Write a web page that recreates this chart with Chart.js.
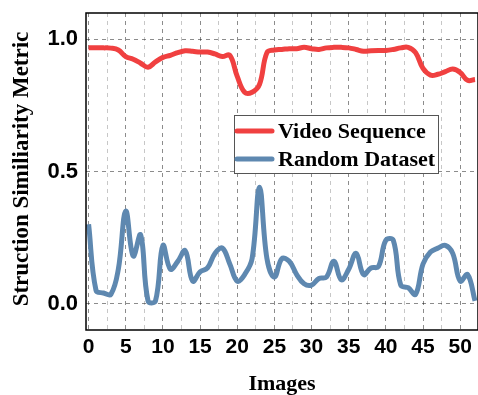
<!DOCTYPE html>
<html>
<head>
<meta charset="utf-8">
<script src="https://cdn.jsdelivr.net/npm/chart.js@4"></script>
<style>
  html, body { margin: 0; padding: 0; background: #fff; }
  #wrap { width: 478px; height: 395px; }
</style>
</head>
<body>
<div id="wrap"><canvas id="chart" width="478" height="395"></canvas></div>
<script>
// chart data
const images = [];
for (let i = 0; i <= 52; i++) images.push(i);

const videoSequence = [0.968, 0.968, 0.968, 0.967, 0.960, 0.935, 0.925, 0.910, 0.895, 0.915,
    0.932, 0.940, 0.950, 0.957, 0.955, 0.952, 0.952, 0.945, 0.935, 0.940,
    0.860, 0.800, 0.800, 0.830, 0.950, 0.960, 0.962, 0.965, 0.965, 0.970,
    0.965, 0.962, 0.968, 0.970, 0.970, 0.968, 0.962, 0.955, 0.957, 0.958,
    0.958, 0.962, 0.968, 0.970, 0.950, 0.890, 0.865, 0.868, 0.878, 0.888,
    0.875, 0.845, 0.848];

const randomDataset = [0.30, 0.05, 0.04, 0.035, 0.13, 0.35, 0.18, 0.26, 0.01, 0.01,
    0.22, 0.13, 0.16, 0.20, 0.085, 0.12, 0.135, 0.19, 0.21, 0.15,
    0.085, 0.11, 0.17, 0.44, 0.17, 0.10, 0.17, 0.16, 0.11, 0.075,
    0.07, 0.095, 0.10, 0.16, 0.09, 0.13, 0.19, 0.11, 0.135, 0.14,
    0.24, 0.24, 0.07, 0.06, 0.035, 0.15, 0.195, 0.21, 0.22, 0.19,
    0.085, 0.11, 0.01];

const xTicks = [0, 2.5, 5, 7.5, 10, 12.5, 15, 17.5, 20, 22.5, 25, 27.5, 30, 32.5, 35, 37.5, 40, 42.5, 45, 47.5, 50];
const yTicks = [0, 0.5, 1.0];

const red = 'rgb(240, 64, 64)';
const blue = 'rgb(94, 136, 176)';

const serif = '"Liberation Serif", "Times New Roman", serif';
const sans = '"Liberation Sans", Arial, sans-serif';

const toPoints = (vals) => vals.map((v, i) => ({ x: images[i], y: v }));


// frame, axis titles and legend box
const extras = {
    id: 'extras',
    afterDraw(chart) {
        const { ctx, chartArea: a } = chart;
        ctx.save();
        ctx.strokeStyle = '#000';
        ctx.lineWidth = 1.5;
        ctx.strokeRect(a.left, a.top, a.right - a.left, a.bottom - a.top);

        ctx.fillStyle = '#000';
        ctx.font = 'bold 22px ' + serif;
        ctx.textAlign = 'center';
        ctx.textBaseline = 'middle';
        ctx.fillText('Images', 282, 384);

        ctx.font = 'bold 23px ' + serif;
        ctx.translate(22, 169);
        ctx.rotate(-Math.PI / 2);
        ctx.fillText('Struction Similiarity Metric', 0, 0);
        ctx.restore();

        // legend
        ctx.save();
        const bx = 234, by = 115, bw = 204, bh = 58;
        ctx.fillStyle = '#fff';
        ctx.fillRect(bx, by, bw, bh);
        ctx.strokeStyle = '#555';
        ctx.lineWidth = 1;
        ctx.strokeRect(bx + 0.5, by + 0.5, bw, bh);
        ctx.font = 'bold 22px ' + serif;
        ctx.textBaseline = 'middle';
        ctx.lineCap = 'round';
        chart.data.datasets.forEach((ds, k) => {
            const y = 131 + k * 28;
            ctx.strokeStyle = ds.borderColor;
            ctx.lineWidth = 5;
            ctx.beginPath();
            ctx.moveTo(237, y);
            ctx.lineTo(272, y);
            ctx.stroke();
            ctx.fillStyle = '#000';
            ctx.fillText(ds.label, 278, y + 1);
        });
        ctx.restore();
    }
};


const chart = document.querySelector('#chart').getContext('2d');

new Chart(chart, {
    type: 'line',
    data: {
        datasets: [
            {
                label: 'Video Sequence',
                data: toPoints(videoSequence),
                borderColor: red,
                borderWidth: 5,
                pointRadius: 0,
                tension: 0.4
            },
            {
                label: 'Random Dataset',
                data: toPoints(randomDataset),
                borderColor: blue,
                borderWidth: 5,
                pointRadius: 0,
                tension: 0.4
            }
        ]
    },
    options: {
        responsive: false,
        animation: false,
        layout: { padding: { top: 13, right: 0, left: 0, bottom: 0 } },
        plugins: {
            legend: { display: false },
            tooltip: { enabled: false }
        },
        scales: {
            x: {
                type: 'linear',
                min: -0.35,
                max: 52.4,
                afterBuildTicks: (s) => { s.ticks = xTicks.map(v => ({ value: v })); },
                afterFit: (s) => { s.height = 65; s.paddingLeft = 0; s.paddingRight = 0; },
                ticks: {
                    autoSkip: false,
                    maxRotation: 0,
                    padding: 5,
                    color: '#000',
                    font: { family: sans, size: 21, weight: 'bold' },
                    callback: (v) => (v % 5 === 0 ? String(v) : '')
                },
                grid: {
                    drawTicks: false,
                    lineWidth: 1,
                    color: (c) => (c.tick && c.tick.value % 5 === 0 ? 'rgba(0,0,0,0.45)' : 'rgba(0,0,0,0.22)')
                },
                border: { display: false, dash: [4, 4] }
            },
            y: {
                min: -0.1,
                max: 1.1,
                afterBuildTicks: (s) => { s.ticks = yTicks.map(v => ({ value: v })); },
                afterFit: (s) => { s.width = 86; s.paddingTop = 0; s.paddingBottom = 0; },
                ticks: {
                    padding: 8,
                    color: '#000',
                    font: { family: sans, size: 22, weight: 'bold' },
                    callback: (v) => v.toFixed(1)
                },
                grid: {
                    drawTicks: false,
                    lineWidth: 1,
                    color: 'rgba(0,0,0,0.45)'
                },
                border: { display: false, dash: [4, 4] }
            }
        }
    },
    plugins: [extras]
});
</script>
</body>
</html>
